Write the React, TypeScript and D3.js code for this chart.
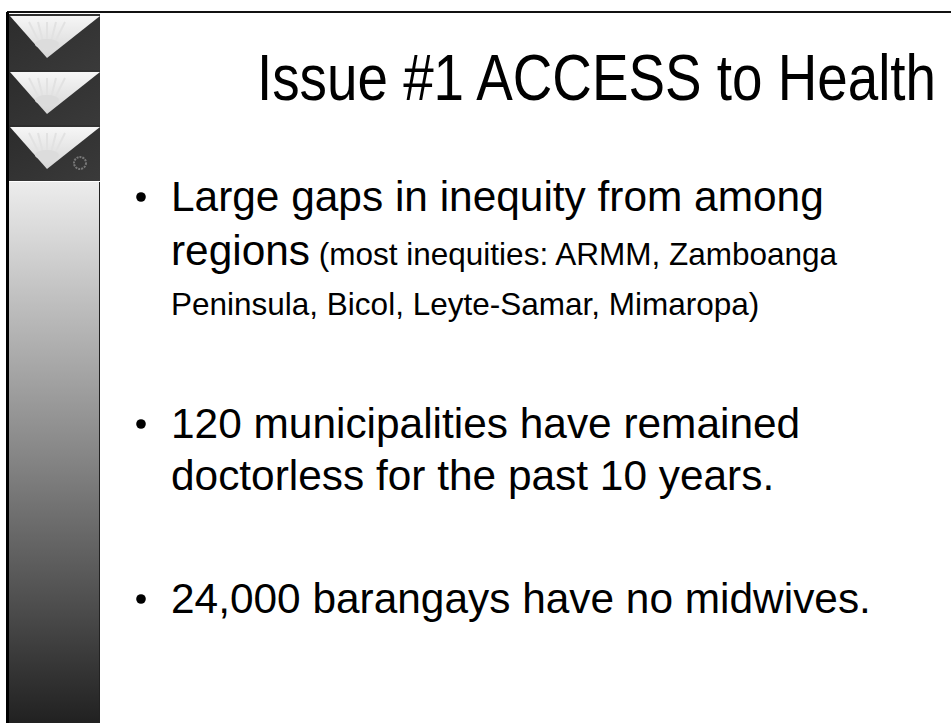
import React from "react";
import * as d3 from "d3";

const W = 951;
const H = 723;

const titleText = "Issue #1 ACCESS to Health";
const bullets = [
  { lines: [[{ t: "Large gaps in inequity from among", s: "big" }], [{ t: "regions", s: "big" }, { t: " (most inequities: ARMM, Zamboanga", s: "small" }], [{ t: "Peninsula, Bicol, Leyte-Samar, Mimaropa)", s: "small" }]] },
  { lines: [[{ t: "120 municipalities have remained", s: "big" }], [{ t: "doctorless for the past 10 years.", s: "big" }]] },
  { lines: [[{ t: "24,000 barangays have no midwives.", s: "big" }]] },
];
const lineBaselines = [[211, 265, 315], [438, 490], [613]];
const blockTops = [14, 70, 125];

export default function App() {
  const grad = d3.scaleLinear<string>().domain([0, 1]).range(["#ececec", "#212121"]);
  const stops = d3.range(0, 1.0001, 0.1);
  const font = "'Liberation Sans', Arial, sans-serif";
  const rays = d3.range(-2, 3);
  return (
    <svg width={W} height={H} style={{ position: "absolute", left: 0, top: 0, background: "#fff" }}>
      <defs>
        <linearGradient id="panel" x1="0" y1="0" x2="0" y2="1">
          {stops.map((s) => (
            <stop key={s} offset={s} stopColor={grad(s)} />
          ))}
        </linearGradient>
        <linearGradient id="tri" x1="0" y1="0" x2="0" y2="1">
          <stop offset="0" stopColor="#f6f6f6" />
          <stop offset="1" stopColor="#d6d6d6" />
        </linearGradient>
        <linearGradient id="blk" x1="0" y1="0" x2="1" y2="1">
          <stop offset="0" stopColor="#2c2c2c" />
          <stop offset="1" stopColor="#3a3a3a" />
        </linearGradient>
      </defs>
      <rect x={0} y={0} width={W} height={H} fill="#fff" />
      <rect x={9} y={182} width={91} height={H - 182} fill="url(#panel)" />
      {blockTops.map((t, i) => (
        <g key={i}>
          <rect x={9} y={t} width={91} height={56} fill="url(#blk)" />
          <path d={`M10,${t + 2} L100,${t + 2} L47,${t + 44} Z`} fill="url(#tri)" />
          {rays.map((r) => (
            <line key={r} x1={47 + r * 4} y1={t + 28} x2={47 + r * 9} y2={t + 8} stroke="#e2e2e2" strokeWidth={2} />
          ))}
          <ellipse cx={47} cy={t + 30} rx={12} ry={5} fill="#dcdcdc" />
        </g>
      ))}
      <circle cx={80} cy={163} r={6} fill="none" stroke="#777" strokeWidth={2} strokeDasharray="2 1" />
      <line x1={99.5} y1={182} x2={99.5} y2={H} stroke="#222" strokeWidth={1} />
      <line x1={7} y1={12} x2={W} y2={12} stroke="#111" strokeWidth={2} />
      <rect x={6} y={12} width={3} height={H - 12} fill="#000" />
      <g transform="translate(257,100) scale(0.856,1)">
        <text x={0} y={0} fontFamily={font} fontSize={64} fill="#000">{titleText}</text>
      </g>
      {bullets.map((b, bi) => (
        <g key={bi}>
          <circle cx={141} cy={lineBaselines[bi][0] - 14} r={4.8} fill="#000" />
          {b.lines.map((ln, li) => (
            <text key={li} x={171} y={lineBaselines[bi][li]} fontFamily={font} fill="#000">
              {ln.map((seg, si) => (
                <tspan key={si} fontSize={seg.s === "big" ? 42.4 : 31.5}>{seg.t}</tspan>
              ))}
            </text>
          ))}
        </g>
      ))}
    </svg>
  );
}
